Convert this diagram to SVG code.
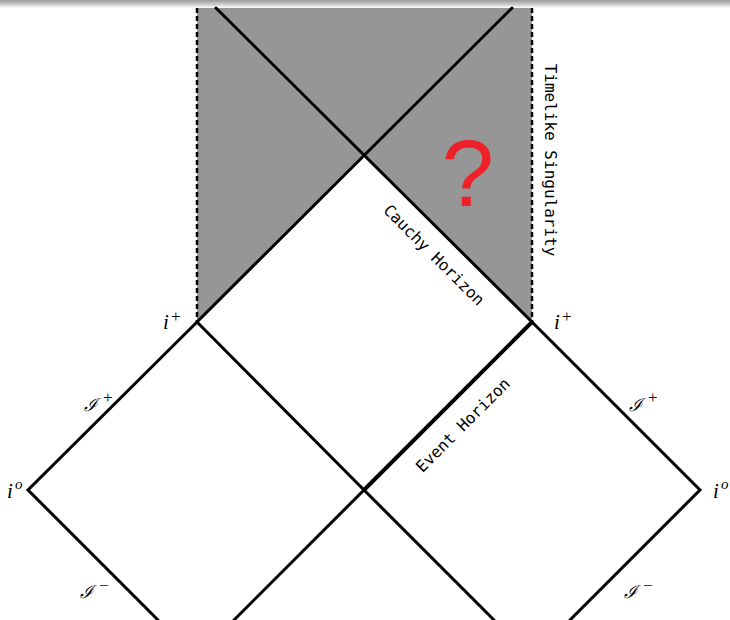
<svg xmlns="http://www.w3.org/2000/svg" width="730" height="620" viewBox="0 0 730 620">
<defs>
<linearGradient id="topbar" x1="0" y1="0" x2="0" y2="1">
<stop offset="0" stop-color="#9a9a9a"/>
<stop offset="0.5" stop-color="#c8c8c8"/>
<stop offset="1" stop-color="#ffffff"/>
</linearGradient>
<style>
.edge{stroke:#000;stroke-width:3;fill:none;stroke-linecap:round}
.dash{stroke:#000;stroke-width:2.5;fill:none;stroke-dasharray:5 3}
.lbl{font-family:"Liberation Serif","DejaVu Serif",serif;font-style:italic;font-size:21px;fill:#000}
.scri{font-family:"DejaVu Serif","Liberation Serif",serif;font-style:italic;font-size:18px;fill:#000}
.sup{font-family:"Liberation Serif","DejaVu Serif",serif;font-size:17px;fill:#000}
.mono{font-family:"DejaVu Sans Mono",monospace;font-size:16px;fill:#000}
</style>
</defs>
<rect x="0" y="0" width="730" height="620" fill="#fff"/>
<rect x="0" y="0" width="730" height="8" fill="url(#topbar)"/>
<g id="singularity-region">
<polygon points="197,8 532,8 532,322 364,154 197,322" fill="#969696"/>
</g>
<g id="connectors">
<line class="dash" x1="197" y1="8" x2="197" y2="322"/>
<line class="dash" x1="532" y1="8" x2="532" y2="322"/>
<line class="edge" x1="216" y1="8" x2="532" y2="322"/>
<line class="edge" x1="512" y1="8" x2="197" y2="322"/>
<path class="edge" d="M197,322 L28,490 L158,620"/>
<path class="edge" d="M197,322 L364,490 L494,620"/>
<path class="edge" d="M532,322 L700,490 L570,620"/>
<path class="edge" d="M234,620 L364,490 L532,322"/>
<line x1="364" y1="490" x2="532" y2="322" stroke="#000" stroke-width="4"/>
</g>
<g id="label-iplus-left"><text class="lbl" x="163" y="329">i</text><text class="sup" x="171" y="322">+</text></g>
<g id="label-iplus-right"><text class="lbl" x="554" y="329">i</text><text class="sup" x="562" y="322">+</text></g>
<g id="label-i0-left"><text class="lbl" x="7" y="498">i</text><text class="lbl" x="15" y="489" style="font-size:15px">o</text></g>
<g id="label-i0-right"><text class="lbl" x="713" y="498">i</text><text class="lbl" x="721" y="489" style="font-size:15px">o</text></g>
<g id="label-scri-plus-left"><text class="scri" x="84" y="411">ℐ</text><text class="sup" x="103" y="403">+</text></g>
<g id="label-scri-plus-right"><text class="scri" x="629" y="411">ℐ</text><text class="sup" x="648" y="403">+</text></g>
<g id="label-scri-minus-left"><text class="scri" x="80" y="598">ℐ</text><text class="sup" x="99" y="591">−</text></g>
<g id="label-scri-minus-right"><text class="scri" x="624" y="598">ℐ</text><text class="sup" x="643" y="591">−</text></g>
<g id="label-cauchy"><text class="mono" text-anchor="middle" dominant-baseline="central" transform="translate(434,255) rotate(45)">Cauchy Horizon</text></g>
<g id="label-event"><text class="mono" text-anchor="middle" dominant-baseline="central" transform="translate(463,425) rotate(-45)">Event Horizon</text></g>
<g id="label-timelike"><text class="mono" text-anchor="middle" dominant-baseline="central" transform="translate(550,160) rotate(90)">Timelike Singularity</text></g>
<g id="question"><text x="468" y="206" text-anchor="middle" font-family="Liberation Sans, Arial, sans-serif" font-size="94" fill="#ee2028">?</text></g>
</svg>
